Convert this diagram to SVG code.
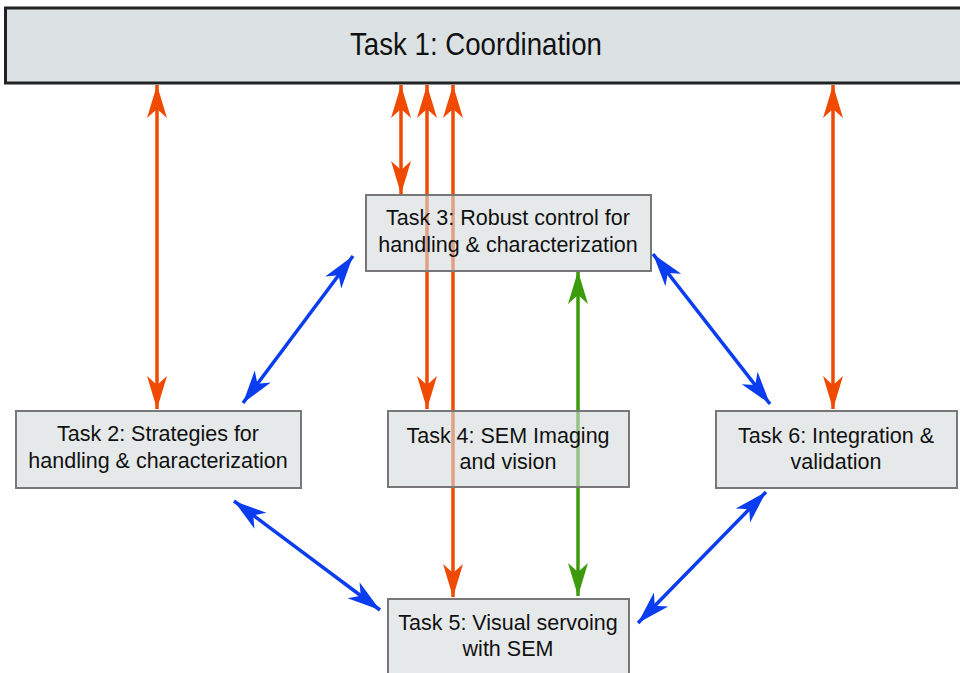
<svg xmlns="http://www.w3.org/2000/svg" width="960" height="673" viewBox="0 0 960 673">
<defs>
<style>
.t{font-family:"Liberation Sans",Arial,sans-serif;fill:#111;text-anchor:middle}
.n{font-size:21.5px}
.box{fill:#d6dadc;fill-opacity:0.6;stroke:#777;stroke-width:2}
.or{stroke:#f04a00;stroke-width:3.5;fill:none}
.bl{stroke:#0a3cf0;stroke-width:3.5;fill:none}
.gr{stroke:#3c9b0c;stroke-width:3.5;fill:none}
</style>
<marker id="ao" markerUnits="userSpaceOnUse" viewBox="-33 -11 34 22" refX="0" refY="0" markerWidth="34" markerHeight="22" orient="auto-start-reverse"><path d="M0,0 L-33,-10 L-24,0 L-33,10 Z" fill="#f04a00"/></marker>
<marker id="ab" markerUnits="userSpaceOnUse" viewBox="-33 -11 34 22" refX="0" refY="0" markerWidth="34" markerHeight="22" orient="auto-start-reverse"><path d="M0,0 L-33,-10 L-24,0 L-33,10 Z" fill="#0a3cf0"/></marker>
<marker id="ag" markerUnits="userSpaceOnUse" viewBox="-33 -11 34 22" refX="0" refY="0" markerWidth="34" markerHeight="22" orient="auto-start-reverse"><path d="M0,0 L-33,-10 L-24,0 L-33,10 Z" fill="#3c9b0c"/></marker>
</defs>
<rect width="960" height="673" fill="#fff"/>
<g id="connectors">
<line class="or" x1="157" y1="85" x2="157" y2="409" marker-start="url(#ao)" marker-end="url(#ao)"/>
<line class="or" x1="401" y1="85" x2="401" y2="194" marker-start="url(#ao)" marker-end="url(#ao)"/>
<line class="or" x1="427" y1="85" x2="427" y2="409" marker-start="url(#ao)" marker-end="url(#ao)"/>
<line class="or" x1="453" y1="85" x2="453" y2="597" marker-start="url(#ao)" marker-end="url(#ao)"/>
<line class="or" x1="833" y1="85" x2="833" y2="409" marker-start="url(#ao)" marker-end="url(#ao)"/>
<line class="gr" x1="578" y1="271" x2="578" y2="596" marker-start="url(#ag)" marker-end="url(#ag)"/>
<line class="bl" x1="353" y1="256" x2="243" y2="403" marker-start="url(#ab)" marker-end="url(#ab)"/>
<line class="bl" x1="653" y1="254" x2="770" y2="404" marker-start="url(#ab)" marker-end="url(#ab)"/>
<line class="bl" x1="234" y1="501" x2="380" y2="610" marker-start="url(#ab)" marker-end="url(#ab)"/>
<line class="bl" x1="766" y1="492" x2="638" y2="623" marker-start="url(#ab)" marker-end="url(#ab)"/>
</g>
<g id="task1">
<rect x="5.5" y="8" width="960" height="75" fill="#dce2e4" stroke="#222" stroke-width="3"/>
<text class="t" transform="translate(476,55) scale(0.97,1.08)" font-size="28.5">Task 1: Coordination</text>
</g>
<g id="task3">
<rect class="box" x="366" y="195" width="285" height="76"/>
<text class="t n" x="508" y="225">Task 3: Robust control for</text>
<text class="t n" x="508" y="252">handling &amp; characterization</text>
</g>
<g id="task2">
<rect class="box" x="16" y="411" width="285" height="77"/>
<text class="t n" x="158" y="441">Task 2: Strategies for</text>
<text class="t n" x="158" y="468">handling &amp; characterization</text>
</g>
<g id="task4">
<rect class="box" x="388" y="411" width="241" height="76"/>
<text class="t n" x="508" y="443">Task 4: SEM Imaging</text>
<text class="t n" x="508" y="469">and vision</text>
</g>
<g id="task6">
<rect class="box" x="716" y="411" width="241" height="77"/>
<text class="t n" x="836" y="443">Task 6: Integration &amp;</text>
<text class="t n" x="836" y="469">validation</text>
</g>
<g id="task5">
<rect class="box" x="388" y="599" width="241" height="90"/>
<text class="t n" x="508" y="630">Task 5: Visual servoing</text>
<text class="t n" x="508" y="656">with SEM</text>
</g>
</svg>
